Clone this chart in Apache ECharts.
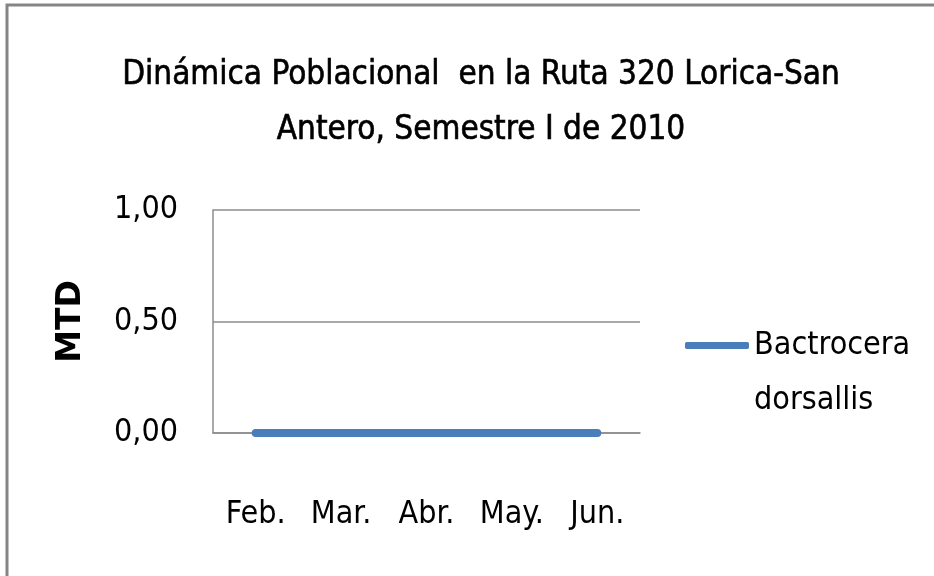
<!DOCTYPE html>
<html>
<head>
<meta charset="utf-8">
<script src="https://cdn.jsdelivr.net/npm/echarts@6/dist/echarts.min.js"></script>
<style>html,body{margin:0;padding:0;background:#fff}#c{width:934px;height:576px}</style>
</head>
<body>
<div id="c"></div>
<script>
const categories = ['Feb.', 'Mar.', 'Abr.', 'May.', 'Jun.'];
const seriesName = 'Bactrocera dorsallis';
const values = [0, 0, 0, 0, 0];
const yTicks = { min: 0, max: 1, interval: 0.5 };
const titleText = 'Dinámica Poblacional  en la Ruta 320 Lorica-San\nAntero, Semestre I de 2010';
const yName = 'MTD';

const FONT = "'Liberation Sans Narrow', 'DejaVu Sans Condensed', 'Liberation Sans', sans-serif";
const chart = echarts.init(document.getElementById('c'));
chart.setOption({
  backgroundColor: '#fff',
  animation: false,
  title: {
    text: titleText,
    left: 476,
    top: 43,
    textAlign: 'center',
    textStyle: { fontFamily: FONT, fontSize: 33, fontWeight: 'normal', color: '#000', lineHeight: 55,
      textBorderColor: '#000', textBorderWidth: 0.6 }
  },
  graphic: [{
    type: 'rect',
    shape: { x: 7, y: 5, width: 1200, height: 1200 },
    style: { fill: null, stroke: '#858585', lineWidth: 3 },
    silent: true
  }],
  legend: {
    left: 680,
    top: 258,
    orient: 'vertical',
    icon: 'roundRect',
    itemWidth: 64,
    itemHeight: 7,
    itemGap: 6,
    formatter: () => '\nBactrocera\ndorsallis',
    textStyle: { fontFamily: FONT, fontSize: 32, color: '#000', lineHeight: 55, padding: [0, 0, 0, 0] },
    data: [seriesName]
  },
  grid: { left: 213, right: 294, top: 210, bottom: 143, containLabel: false },
  xAxis: {
    type: 'category',
    data: categories,
    boundaryGap: true,
    axisLine: { lineStyle: { color: '#8c8c8c', width: 1.5 } },
    axisTick: { show: false },
    axisLabel: { fontFamily: FONT, fontSize: 32, color: '#000', margin: 66 }
  },
  yAxis: {
    type: 'value',
    min: yTicks.min, max: yTicks.max, interval: yTicks.interval,
    name: yName,
    nameLocation: 'middle',
    nameGap: 125,
    nameRotate: 90,
    nameTextStyle: { fontFamily: "'DejaVu Sans', sans-serif", fontSize: 33, fontWeight: 'bold', color: '#000' },
    axisLine: { show: true, lineStyle: { color: '#8c8c8c', width: 1.5 } },
    axisTick: { show: false },
    splitLine: { lineStyle: { color: '#8c8c8c', width: 1.5 } },
    axisLabel: {
      fontFamily: FONT, fontSize: 32, color: '#000', margin: 35,
      formatter: v => v.toFixed(2).replace('.', ',')
    }
  },
  series: [{
    name: seriesName,
    type: 'line',
    data: values,
    symbol: 'none',
    lineStyle: { color: '#4a7ebb', width: 8, cap: 'round' },
    itemStyle: { color: '#4a7ebb' }
  }]
});
</script>
</body>
</html>
